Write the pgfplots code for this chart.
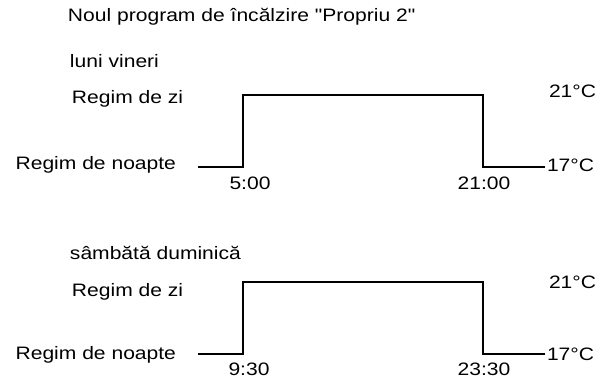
\documentclass[border=0pt]{standalone}
\usepackage{graphicx}
\usepackage{fontspec}
\setmainfont{Liberation Sans}[Ligatures=TeXOff]
\usepackage{pgfplots}
\pgfplotsset{compat=1.18}

% text in the reference is stretched a little sideways
\newcommand{\sx}[1]{\scalebox{1.17}[1]{\fontsize{18}{21}\selectfont #1}}

\pgfplotstableread{
x y
2 17
5 17
5 21
21 21
21 17
25.133 17
}\weekdays

\pgfplotstableread{
x y
6.875 17
9.5 17
9.5 21
23.5 21
23.5 17
27.117 17
}\weekend

\pgfplotsset{
  step/.style={
    scale only axis, width=347pt, height=72pt,
    ymin=17, ymax=21, clip=false,
    axis line style={draw=none}, xtick=\empty, ytick=\empty,
  },
}
\tikzset{lbl/.style={inner sep=0pt, outer sep=0pt}}

\begin{document}
\begin{tikzpicture}
\path[use as bounding box] (0,0) rectangle (613pt,381pt);

% luni - vineri
\begin{axis}[step, at={(198pt,214pt)}, anchor=south west, xmin=2, xmax=25.133]
\addplot[black, line width=2.5pt, line join=miter] table {\weekdays};
\node[lbl, anchor=base west] at (rel axis cs:0,0) [xshift=-130pt, yshift=145pt] {\sx{Noul program de încălzire "Propriu 2"}};
\node[lbl, anchor=base west] at (rel axis cs:0,0) [xshift=-128pt, yshift=99pt] {\sx{luni vineri}};
\node[lbl, anchor=base west] at (rel axis cs:0,0) [xshift=-126pt, yshift=63pt] {\sx{Regim de zi}};
\node[lbl, anchor=base east] at (rel axis cs:0,0) [xshift=-22pt, yshift=-2pt] {\sx{Regim de noapte}};
\node[lbl, anchor=base] at (axis cs:5,17) [xshift=7pt, yshift=-23pt] {\sx{5:00}};
\node[lbl, anchor=base] at (axis cs:21,17) [xshift=1pt, yshift=-23pt] {\sx{21:00}};
\node[lbl, anchor=base west] at (rel axis cs:1,0) [xshift=4pt, yshift=69pt] {\sx{21°C}};
\node[lbl, anchor=base west] at (rel axis cs:1,0) [xshift=2pt, yshift=-5pt] {\sx{17°C}};
\end{axis}

% sambata - duminica
\begin{axis}[step, at={(198pt,27pt)}, anchor=south west, xmin=6.875, xmax=27.117]
\addplot[black, line width=2.5pt, line join=miter] table {\weekend};
\node[lbl, anchor=base west] at (rel axis cs:0,0) [xshift=-128pt, yshift=95pt] {\sx{sâmbătă duminică}};
\node[lbl, anchor=base west] at (rel axis cs:0,0) [xshift=-126pt, yshift=58pt] {\sx{Regim de zi}};
\node[lbl, anchor=base east] at (rel axis cs:0,0) [xshift=-22pt, yshift=-5pt] {\sx{Regim de noapte}};
\node[lbl, anchor=base] at (axis cs:9.5,17) [xshift=6pt, yshift=-21pt] {\sx{9:30}};
\node[lbl, anchor=base] at (axis cs:23.5,17) [xshift=1pt, yshift=-21pt] {\sx{23:30}};
\node[lbl, anchor=base west] at (rel axis cs:1,0) [xshift=4pt, yshift=66pt] {\sx{21°C}};
\node[lbl, anchor=base west] at (rel axis cs:1,0) [xshift=2pt, yshift=-6pt] {\sx{17°C}};
\end{axis}
\end{tikzpicture}
\end{document}
